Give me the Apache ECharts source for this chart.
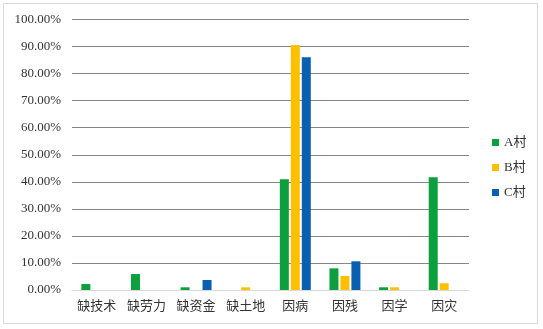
<!DOCTYPE html>
<html>
<head>
<meta charset="utf-8">
<script src="https://cdn.jsdelivr.net/npm/echarts@6/dist/echarts.min.js"></script>
<style>
  html, body { margin: 0; padding: 0; background: #fff; }
  #chart-box { width: 543px; height: 329px; position: relative; }
  #frame { position: absolute; left: 3px; top: 3px; width: 535px; height: 321px; border: 1px solid #d9d9d9; box-sizing: border-box; pointer-events: none; }
</style>
</head>
<body>
<div id="chart-box"></div>
<div id="frame"></div>
<script>
// data
var categories = ["缺技术", "缺劳力", "缺资金", "缺土地", "因病", "因残", "因学", "因灾"];
var villageA = [2.2, 5.9, 1.0, 0, 40.9, 8.0, 1.0, 41.7];
var villageB = [0, 0, 0, 1.0, 90.6, 5.2, 1.0, 2.5];
var villageC = [0, 0, 3.7, 0, 86.0, 10.6, 0, 0];
var seriesNames = ["A村", "B村", "C村"];
var colors = ["#0c9f3e", "#ffc000", "#0a5fb0"];

var myChart = echarts.init(document.getElementById("chart-box"));
var font = "'Liberation Serif', 'Noto Sans CJK SC', serif";

function makeBar(name, data, i) {
    return {
        name: name,
        type: "bar",
        data: data,
        barWidth: 9,
        barGap: "22%",
        itemStyle: { color: colors[i] }
    };
}

var option = {
    animation: false,
    textStyle: { fontFamily: font },
    grid: { left: 72, right: 74, top: 19.5, bottom: 39 },
    legend: {
        orient: "vertical",
        left: 487,
        top: 131,
        itemWidth: 7,
        itemHeight: 7,
        itemGap: 12,
        icon: "rect",
        textStyle: { fontSize: 13, color: "#333", fontFamily: font },
        data: seriesNames
    },
    xAxis: {
        type: "category",
        data: categories,
        axisTick: { show: false },
        axisLine: { lineStyle: { color: "#d9d9d9", width: 1 } },
        axisLabel: { interval: 0, fontSize: 13, color: "#333", margin: 10, fontFamily: font }
    },
    yAxis: {
        type: "value",
        min: 0,
        max: 100,
        interval: 10,
        axisLine: { show: false },
        axisTick: { show: false },
        splitLine: { lineStyle: { color: "#868686", width: 1 } },
        axisLabel: {
            fontSize: 13,
            color: "#333",
            margin: 11,
            fontFamily: font,
            formatter: function (v) { return v.toFixed(2) + "%"; }
        }
    },
    series: [
        makeBar(seriesNames[0], villageA, 0),
        makeBar(seriesNames[1], villageB, 1),
        makeBar(seriesNames[2], villageC, 2)
    ]
};
myChart.setOption(option);
</script>
</body>
</html>
